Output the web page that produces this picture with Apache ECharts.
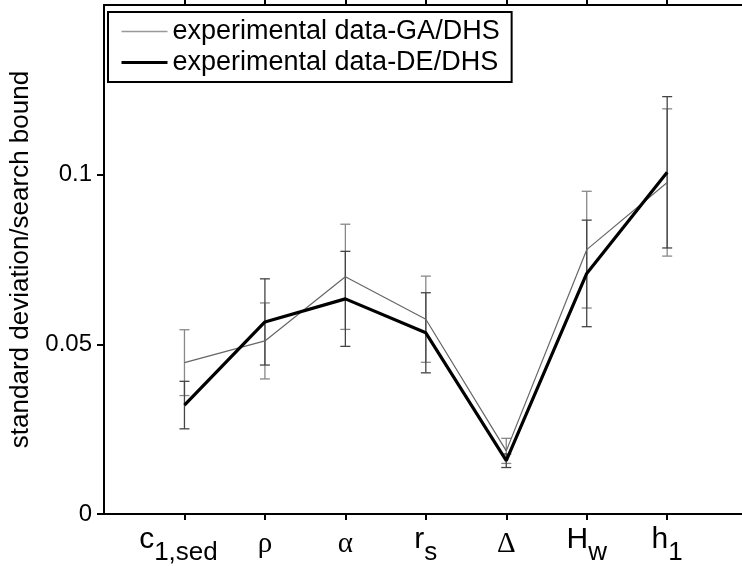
<!DOCTYPE html>
<html>
<head>
<meta charset="utf-8">
<script src="https://cdn.jsdelivr.net/npm/echarts@6/dist/echarts.min.js"></script>
<style>
html,body{margin:0;padding:0;background:#fff;}
#chart{width:742px;height:566px;}
</style>
</head>
<body>
<div id="chart"></div>
<script>
// Category labels (main symbol + subscript)
var labelMain = ['c', 'ρ', 'α', 'r', 'Δ', 'H', 'h'];
var labelSub  = ['1,sed', '', '', 's', '', 'w', '1'];
var labelGreek = [false, true, true, false, true, false, false];
var xPositions = [1, 2, 3, 4, 5, 6, 7];

// GA/DHS series: mean and error half-width
var gaMean = [0.0446, 0.0510, 0.0699, 0.0574, 0.0186, 0.0779, 0.0977];
var gaErr  = [0.0097, 0.0112, 0.0155, 0.0127, 0.0037, 0.0172, 0.0217];
// DE/DHS series
var deMean = [0.0321, 0.0566, 0.0634, 0.0534, 0.0157, 0.0709, 0.1007];
var deErr  = [0.0070, 0.0127, 0.0140, 0.0118, 0.0020, 0.0157, 0.0223];

var yTicks = [0, 0.05, 0.1];

function pts(mean) { return xPositions.map(function (x, i) { return [x, mean[i]]; }); }
function errPts(mean, err) { return xPositions.map(function (x, i) { return [x, mean[i] - err[i], mean[i] + err[i]]; }); }

function errRender(color) {
  return function (params, api) {
    var x = api.value(0);
    var lo = api.coord([x, api.value(1)]);
    var hi = api.coord([x, api.value(2)]);
    var hw = 5;
    var st = { stroke: color, lineWidth: 1.3 };
    return {
      type: 'group',
      children: [
        { type: 'line', shape: { x1: lo[0], y1: lo[1], x2: hi[0], y2: hi[1] }, style: st },
        { type: 'line', shape: { x1: lo[0] - hw, y1: lo[1], x2: lo[0] + hw, y2: lo[1] }, style: st },
        { type: 'line', shape: { x1: hi[0] - hw, y1: hi[1], x2: hi[0] + hw, y2: hi[1] }, style: st }
      ]
    };
  };
}

var rich = {
  m: { fontFamily: 'Liberation Sans, Arial', fontSize: 30, color: '#000', verticalAlign: 'top' },
  g: { fontFamily: 'Liberation Serif, Times New Roman', fontSize: 29, color: '#000', verticalAlign: 'top', padding: [5, 0, 0, 0] },
  s: { fontFamily: 'Liberation Sans, Arial', fontSize: 26, color: '#000', verticalAlign: 'top', padding: [15, 0, 0, 0] },
  s0: { fontFamily: 'Liberation Sans, Arial', fontSize: 26, color: '#000', verticalAlign: 'top', padding: [15, 12, 0, 0] }
};

var chart = echarts.init(document.getElementById('chart'), null, { renderer: 'canvas' });
chart.setOption({
  animation: false,
  backgroundColor: '#fff',
  grid: { left: 104, right: 0, top: 5, bottom: 51, containLabel: false },
  legend: {
    left: 108, top: 12,
    orient: 'vertical',
    backgroundColor: '#fff',
    borderColor: '#000', borderWidth: 2,
    padding: [6, 12, 6, 12],
    itemGap: 4,
    itemWidth: 46, itemHeight: 14,
    itemStyle: { opacity: 0 },
    textStyle: { fontFamily: 'Liberation Sans, Arial', fontSize: 27, color: '#000' },
    data: [
      { name: 'experimental data-GA/DHS', lineStyle: { width: 1.5, color: '#999' } },
      { name: 'experimental data-DE/DHS', lineStyle: { width: 3, color: '#000' } }
    ]
  },
  xAxis: [{
    type: 'value', min: 0, max: 7.93, interval: 1,
    splitLine: { show: false },
    axisLine: { onZero: false, lineStyle: { color: '#000', width: 2 } },
    axisTick: { show: true, inside: false, length: 6, lineStyle: { color: '#000', width: 2 }, customValues: xPositions },
    axisLabel: {
      customValues: xPositions,
      margin: 11,
      formatter: function (v) {
        var i = xPositions.indexOf(Math.round(v));
        if (i < 0) return '';
        var main = labelGreek[i] ? '{g|' + labelMain[i] + '}' : '{m|' + labelMain[i] + '}';
        if (!labelSub[i]) return main;
        return main + (i === 0 ? '{s0|' : '{s|') + labelSub[i] + '}';
      },
      rich: rich
    }
  }, {
    type: 'value', min: 0, max: 7.93, interval: 1, position: 'top',
    splitLine: { show: false },
    axisLine: { onZero: false, lineStyle: { color: '#000', width: 2 } },
    axisTick: { show: true, inside: false, length: 6, lineStyle: { color: '#000', width: 2 }, customValues: xPositions },
    axisLabel: { show: false }
  }],
  yAxis: {
    type: 'value', min: 0, max: 0.15, interval: 0.05,
    name: 'standard deviation/search bound',
    nameLocation: 'middle', nameGap: 70,
    nameTextStyle: { fontFamily: 'Liberation Sans, Arial', fontSize: 26, color: '#000' },
    splitLine: { show: false },
    axisLine: { lineStyle: { color: '#000', width: 2 } },
    axisTick: { show: true, inside: false, length: 7, lineStyle: { color: '#000', width: 2 }, customValues: yTicks },
    axisLabel: {
      customValues: yTicks,
      margin: 12,
      fontFamily: 'Liberation Sans, Arial', fontSize: 24, color: '#000',
      formatter: function (v) { return String(Math.round(v * 100) / 100); }
    }
  },
  series: [
    {
      name: 'experimental data-GA/DHS', type: 'line', data: pts(gaMean),
      symbol: 'none', lineStyle: { color: '#666', width: 1.2 }, itemStyle: { color: '#666' }, z: 3
    },
    {
      name: 'experimental data-DE/DHS', type: 'line', data: pts(deMean),
      symbol: 'none', lineStyle: { color: '#000', width: 3.2 }, itemStyle: { color: '#000' }, z: 4
    },
    {
      name: 'errGA', type: 'custom', data: errPts(gaMean, gaErr),
      renderItem: errRender('#888'), encode: { x: 0, y: [1, 2] }, z: 2
    },
    {
      name: 'errDE', type: 'custom', data: errPts(deMean, deErr),
      renderItem: errRender('#444'), encode: { x: 0, y: [1, 2] }, z: 2
    }
  ]
});
</script>
</body>
</html>
